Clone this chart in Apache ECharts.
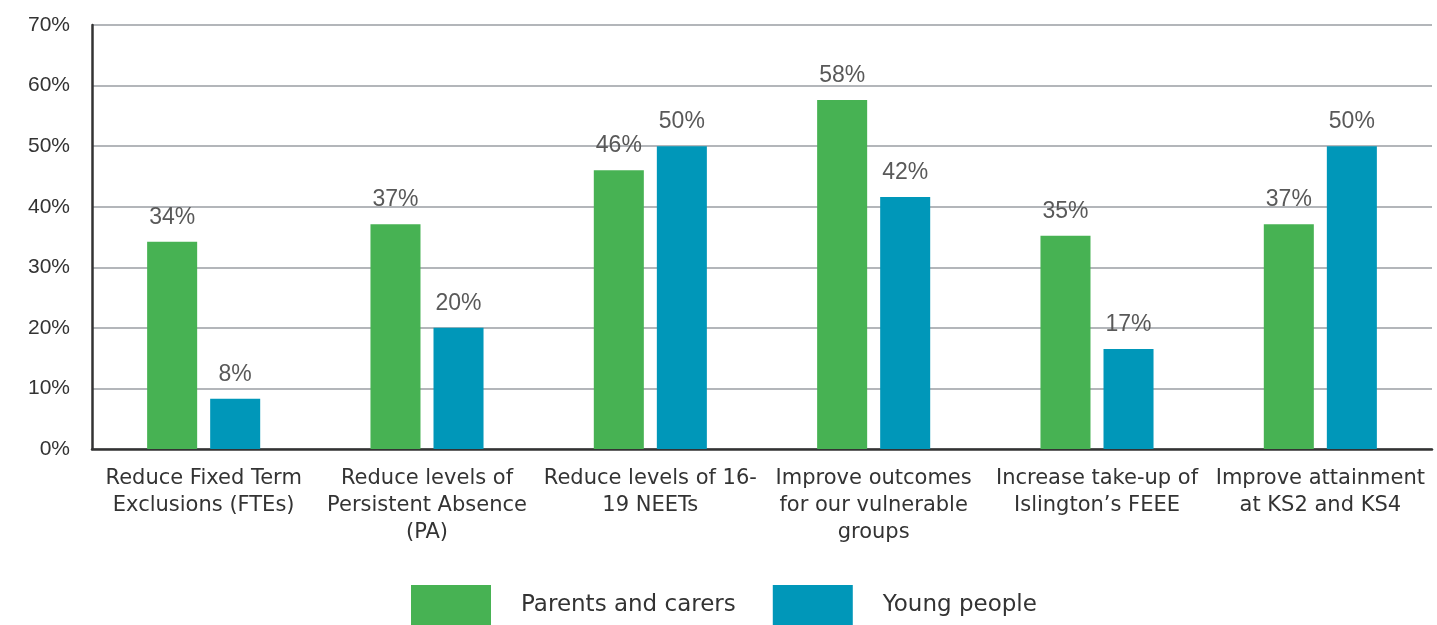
<!DOCTYPE html>
<html>
<head>
    <meta charset="utf-8" />
    <title></title>
    <script type="text/javascript" src="https://cdn.jsdelivr.net/npm/echarts@6/dist/echarts.min.js"></script>
    <style>
        html, body { margin: 0; padding: 0; background: #fff; }
        #con1 { width: 1437px; height: 625px; }
    </style>
</head>
<body>
    <div id="con1"></div>
    <script type="text/javascript">
        var categories = [
            "Reduce Fixed Term\nExclusions (FTEs)",
            "Reduce levels of\nPersistent Absence\n(PA)",
            "Reduce levels of 16-\n19 NEETs",
            "Improve outcomes\nfor our vulnerable\ngroups",
            "Increase take-up of\nIslington\u2019s FEEE",
            "Improve attainment\nat KS2 and KS4"
        ];
        var parents = [34.2, 37.1, 46, 57.6, 35.2, 37.1];
        var young = [8.3, 20, 50, 41.6, 16.5, 50];
        var seriesNames = ["Parents and carers", "Young people"];

        var myChart1 = echarts.init(document.getElementById("con1"));
        var labelStyle = {
            show: true,
            position: 'top',
            distance: 13,
            fontSize: 23,
            color: '#595959',
            fontFamily: '"Liberation Sans", Arial, sans-serif',
            formatter: function (p) { return Math.round(p.value) + '%'; }
        };
        var option1 = {
            color: ['#47b253', '#0097b9'],
            backgroundColor: '#ffffff',
            animation: false,
            grid: {
                left: 92,
                right: 5,
                top: 25,
                bottom: 176
            },
            legend: {
                bottom: -5,
                left: 406,
                itemWidth: 80,
                itemHeight: 40,
                itemGap: 37,
                icon: 'rect',
                textStyle: {
                    fontSize: 23,
                    color: '#333',
                    fontFamily: '"DejaVu Sans", sans-serif',
                    padding: [10, 0, 0, 25]
                },
                data: seriesNames
            },
            xAxis: {
                type: 'category',
                data: categories,
                axisLine: { lineStyle: { color: '#333', width: 2.5 } },
                axisTick: { show: false },
                axisLabel: {
                    fontSize: 21,
                    lineHeight: 27,
                    color: '#333',
                    margin: 16,
                    interval: 0,
                    fontFamily: '"DejaVu Sans", sans-serif'
                }
            },
            yAxis: {
                type: 'value',
                min: 0,
                max: 70,
                interval: 10,
                axisLine: { show: true, lineStyle: { color: '#333', width: 2.5 } },
                axisTick: { show: false },
                splitLine: { lineStyle: { color: '#9a9ea3', width: 1.5 } },
                axisLabel: {
                    fontSize: 21,
                    color: '#333',
                    margin: 22,
                    fontFamily: '"Liberation Sans", Arial, sans-serif',
                    formatter: '{value}%'
                }
            },
            series: [{
                name: seriesNames[0],
                type: 'bar',
                data: parents,
                barWidth: '22.4%',
                barGap: '26%',
                label: labelStyle
            },
            {
                name: seriesNames[1],
                type: 'bar',
                data: young,
                barWidth: '22.4%',
                label: labelStyle
            }]
        };
        myChart1.setOption(option1);
    </script>
</body>
</html>
